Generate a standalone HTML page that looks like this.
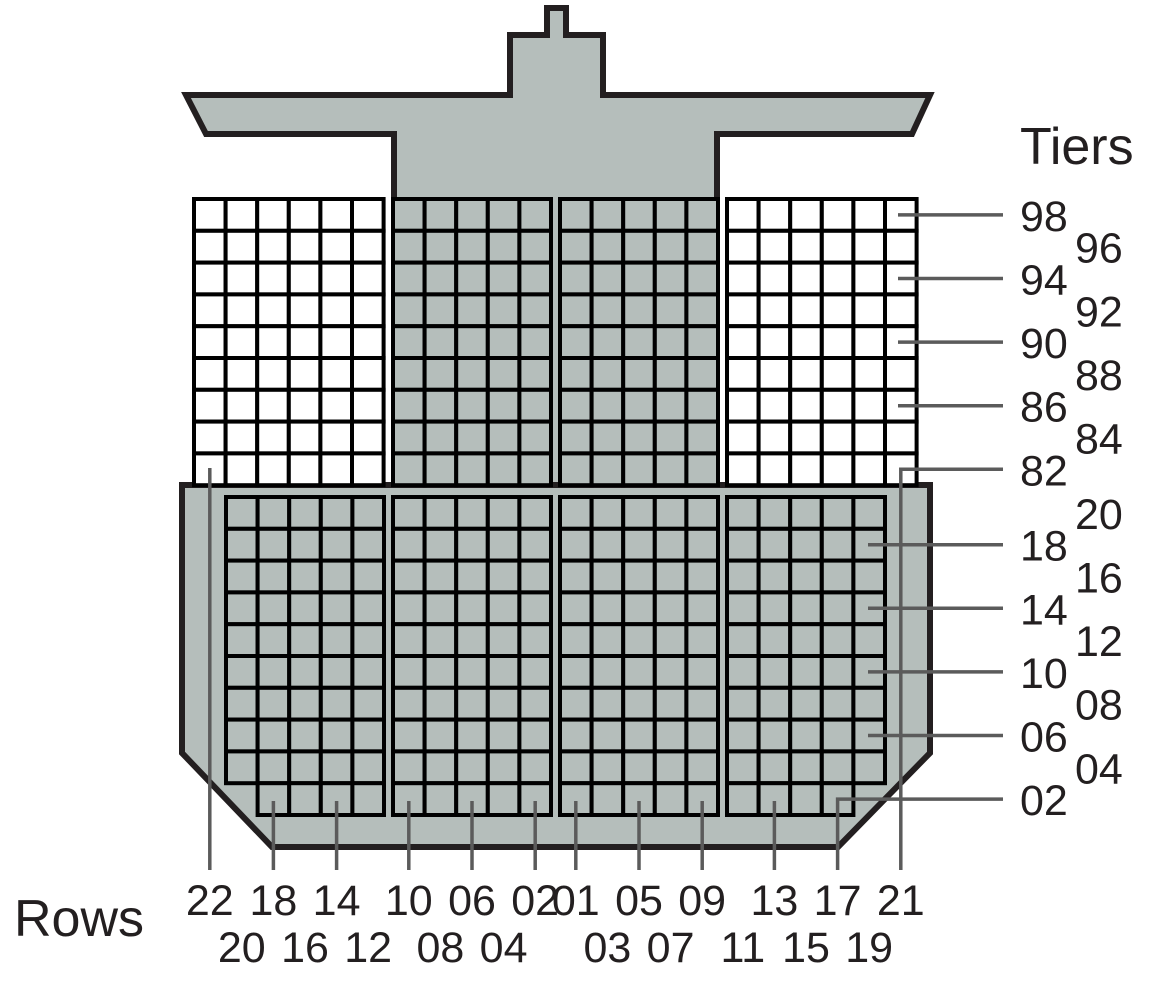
<!DOCTYPE html>
<html><head><meta charset="utf-8"><style>
html,body{margin:0;padding:0;background:#fff;}
svg{display:block;}
text{font-family:"Liberation Sans",sans-serif;fill:#231f20;}
</style></head><body>
<svg id="c" width="1168" height="999" viewBox="0 0 1168 999">
<path d="M186,95 L510,95 L510,35 L547,35 L547,8 L566,8 L566,35 L603,35 L603,95 L930,95 L912,134 L717,134 L717,485 L394,485 L394,134 L206,134 Z" fill="#b5bebb" stroke="#231f20" stroke-width="6" stroke-linejoin="miter"/>
<polygon points="182,485 930,485 930,753 838,847 272,847 182,753" fill="#b5bebb" stroke="#231f20" stroke-width="6"/>
<g id="cells"></g>
<g id="ptr"></g>
<g id="lbl"></g>
<text x="1020" y="164" font-size="52">Tiers</text>
<text x="14" y="936" font-size="52">Rows</text>
</svg>
<script>
// Data
const deckTiers = ["98","96","94","92","90","88","86","84","82"];
const holdTiers = ["20","18","16","14","12","10","08","06","04","02"];
const rowsPort = ["22","20","18","16","14","12","10","08","06","04","02"];
const rowsStbd = ["01","03","05","07","09","11","13","15","17","19","21"];
const NS="http://www.w3.org/2000/svg";
function mk(tag,attrs,parent){const e=document.createElementNS(NS,tag);for(const k in attrs)e.setAttribute(k,attrs[k]);parent.appendChild(e);return e;}
const cellsG=document.getElementById('cells'),ptrG=document.getElementById('ptr'),lblG=document.getElementById('lbl');
const CW=31.6, RH=31.8;
const blocks=[
 {x:194,c:6,y:199,r:deckTiers.length,f:"#fff",miss:-1},
 {x:393,c:5,y:199,r:deckTiers.length,f:"#b5bebb",miss:-1},
 {x:560,c:5,y:199,r:deckTiers.length,f:"#b5bebb",miss:-1},
 {x:727,c:6,y:199,r:deckTiers.length,f:"#fff",miss:-1},
 {x:226,c:5,y:497,r:holdTiers.length,f:"#b5bebb",miss:0},
 {x:393,c:5,y:497,r:holdTiers.length,f:"#b5bebb",miss:-1},
 {x:560,c:5,y:497,r:holdTiers.length,f:"#b5bebb",miss:-1},
 {x:727,c:5,y:497,r:holdTiers.length,f:"#b5bebb",miss:4}
];
blocks.forEach(b=>{
 for(let i=0;i<b.r;i++)for(let j=0;j<b.c;j++){
  if(i===b.r-1&&j===b.miss)continue;
  const e=mk('rect',{x:b.x+j*CW,y:b.y+i*RH,width:CW,height:RH,fill:b.f,stroke:"#000","stroke-width":4},cellsG);
  
  
 }
});
function colX(x0,j){return x0+(j+0.5)*CW;}
const rowX={};
rowX["22"]=colX(194,0);
const portHold=["20","18","16","14","12","10","08","06","04","02"];
portHold.forEach((r,k)=>{rowX[r]= k<5?colX(226,k):colX(393,k-5);});
const stbd=["01","03","05","07","09","11","13","15","17","19"];
stbd.forEach((r,k)=>{rowX[r]= k<5?colX(560,k):colX(727,k-5);});
rowX["21"]=colX(727,5);
function tierY(t){let i=deckTiers.indexOf(t);if(i>=0)return 199+(i+0.5)*RH;i=holdTiers.indexOf(t);return 497+(i+0.5)*RH;}
const stroke={stroke:"#5b5b5b","stroke-width":3.5,fill:"none"};
deckTiers.concat(holdTiers).forEach((t,idx)=>{
 const y=tierY(t);
 const even=(idx%2===0);
 if(even){
  const x0 = deckTiers.includes(t)?898:868;
  let ln;
  if(t==="82"){ln=mk('polyline',Object.assign({points:`1003,${y} ${rowX["21"]},${y} ${rowX["21"]},870`},stroke),ptrG);}
  else if(t==="02"){ln=mk('polyline',Object.assign({points:`1003,${y} ${rowX["17"]},${y} ${rowX["17"]},870`},stroke),ptrG);}
  else ln=mk('line',Object.assign({x1:x0,y1:y,x2:1003,y2:y},stroke),ptrG);
  
  
 }
 const tx=mk('text',{x:even?1020:1075,y:y+16,"font-size":43},lblG);
 tx.textContent=t;
 
 
});
const all=rowsPort.concat(rowsStbd);
all.forEach(r=>{
 const x=rowX[r];
 const top = rowsPort.indexOf(r)>=0 ? rowsPort.indexOf(r)%2===0 : rowsStbd.indexOf(r)%2===0;
 if(top && r!=="21" && r!=="17"){
  const y1 = r==="22"?468:801;
  const ln=mk('line',Object.assign({x1:x,y1:y1,x2:x,y2:870},stroke),ptrG);
  
  
 }
 const tx=mk('text',{x:x,y:top?915:962,"font-size":43,"text-anchor":"middle"},lblG);
 tx.textContent=r;
 
 
});
</script>
</body></html>
